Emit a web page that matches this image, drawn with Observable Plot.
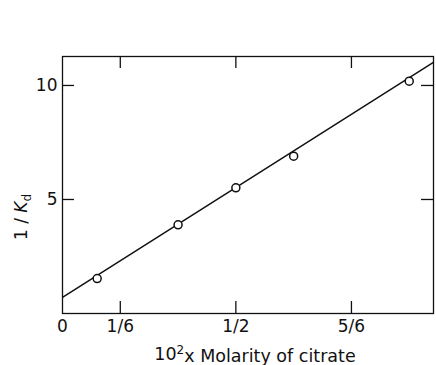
<!DOCTYPE html>
<html>
<head>
<meta charset="utf-8">
<script src="https://cdn.jsdelivr.net/npm/d3@7"></script>
<script src="https://cdn.jsdelivr.net/npm/@observablehq/plot@0.6"></script>
<style>
  body { margin: 0; background: #fff; }
  #chart svg { font-family: "DejaVu Sans", sans-serif; }
</style>
</head>
<body>
<div id="chart"></div>
<script>
// Measured points: 10^2 x molarity of citrate vs 1/Kd
const molarity = [0.1, 1/3, 0.5, 2/3, 1.0];
const invKd = [1.53, 3.89, 5.51, 6.9, 10.19];
// Fitted straight line (end points)
const fitX = [0, 1.07];
const fitY = [0.71, 11.02];
// Tick values and labels
const xTickValues = [0, 1/6, 1/2, 5/6];
const xTickLabels = ["0", "1/6", "1/2", "5/6"];
const xTickMarks = [1/6, 1/2, 5/6];
const yTickValues = [5, 10];
const yTickLabels = ["5", "10"];

const points = molarity.map((x, i) => ({x, y: invKd[i]}));
const fit = fitX.map((x, i) => ({x, y: fitY[i]}));

const W = 436, H = 365, mt = 56, mb = 52, ml = 62, mr = 3;
const inner = H - mt - mb, innerW = W - ml - mr;
const tk = 12;

const chart = Plot.plot({
  width: W, height: H,
  marginTop: mt, marginBottom: mb, marginLeft: ml, marginRight: mr,
  style: {fontSize: "16px", color: "#111", background: "#fff"},
  x: {domain: [0, 1.07]},
  y: {domain: [0, 11.27]},
  marks: [
    Plot.frame({stroke: "#111", strokeWidth: 1.3}),
    Plot.axisX({ticks: xTickValues, tickSize: 0, tickPadding: 6,
      tickFormat: (d) => xTickLabels[xTickValues.indexOf(d)],
      fontSize: 17, label: "XLABEL", labelAnchor: "center", labelArrow: "none", labelOffset: 46}),
    Plot.axisY({ticks: yTickValues, tickSize: 0, tickPadding: 5,
      tickFormat: (d) => yTickLabels[yTickValues.indexOf(d)],
      fontSize: 17, label: "YLABEL", labelAnchor: "center", labelArrow: "none", labelOffset: 48}),
    Plot.tickX(xTickMarks, {x: d => d, insetTop: inner - tk, stroke: "#111", strokeWidth: 1.3}),
    Plot.tickX(xTickMarks, {x: d => d, insetBottom: inner - tk, stroke: "#111", strokeWidth: 1.3}),
    Plot.tickY(yTickValues, {y: d => d, insetRight: innerW - tk, stroke: "#111", strokeWidth: 1.3}),
    Plot.tickY(yTickValues, {y: d => d, insetLeft: innerW - tk, stroke: "#111", strokeWidth: 1.3}),
    Plot.line(fit, {x: "x", y: "y", stroke: "#111", strokeWidth: 1.5, clip: true}),
    Plot.dot(points, {x: "x", y: "y", r: 4, fill: "#fff", stroke: "#111", strokeWidth: 1.5})
  ]
});

// Rich axis labels
d3.select(chart).selectAll("text").each(function() {
  const t = d3.select(this);
  if (t.text() === "YLABEL") {
    t.text("").attr("dx", "-32").attr("font-size", "17px");
    t.append("tspan").text("1 / ");
    t.append("tspan").attr("font-style", "italic").text("K");
    t.append("tspan").attr("dy", "0.35em").attr("font-size", "12px").text("d");
  } else if (t.text() === "XLABEL") {
    t.text("").attr("dx", "7").attr("font-size", "17.5px");
    t.append("tspan").text("10");
    t.append("tspan").attr("dy", "-0.5em").attr("font-size", "12px").text("2");
    t.append("tspan").attr("dy", "0.5em").text("x Molarity of citrate");
  }
});

document.getElementById("chart").appendChild(chart);
</script>
</body>
</html>
